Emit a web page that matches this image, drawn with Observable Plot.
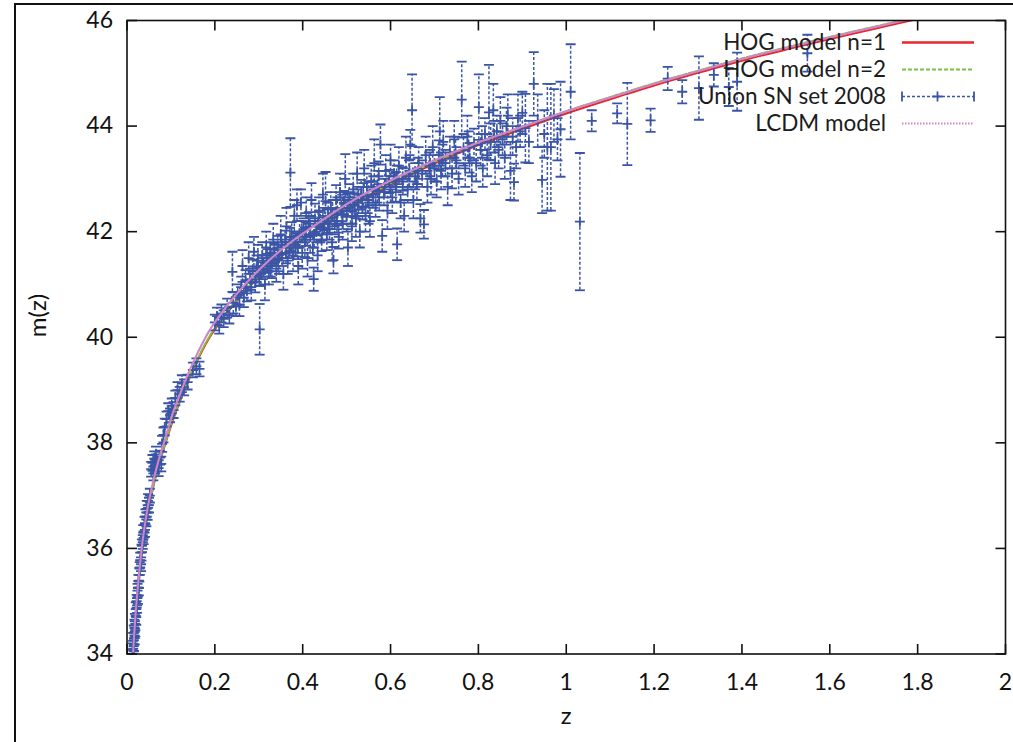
<!DOCTYPE html>
<html><head><meta charset="utf-8">
<script src="https://cdn.jsdelivr.net/npm/d3@7"></script>
<script src="https://cdn.jsdelivr.net/npm/@observablehq/plot@0.6"></script>
<style>
body{margin:0;background:#fff;}
#wrap{position:relative;width:1013px;height:742px;overflow:hidden;font-family:Lato,"Open Sans",sans-serif;}
#chart{position:absolute;left:0;top:0;}
#frame{position:absolute;left:14px;top:3px;width:1100px;height:800px;border-left:2px solid #111;border-top:2px solid #111;}
#legend{position:absolute;left:0;top:0;}
</style></head><body>
<div id="wrap"><div id="chart"></div><div id="frame"></div>
<svg id="legend" width="1013" height="742"></svg></div>
<script>
// ---- tick values ----
const xTicks = [0, 0.2, 0.4, 0.6, 0.8, 1, 1.2, 1.4, 1.6, 1.8, 2];
const yTicks = [34, 36, 38, 40, 42, 44, 46];

// ---- model curves ----
const modelZ = [0.014, 0.02, 0.025, 0.035, 0.045, 0.06, 0.07, 0.0877, 0.1, 0.12, 0.15, 0.188, 0.22, 0.26, 0.32, 0.37, 0.426, 0.5, 0.6, 0.7, 0.8, 0.918, 1.0, 1.1, 1.2, 1.3, 1.4, 1.5, 1.6, 1.7, 1.784, 1.85];
const hog1M = [34.0, 34.76, 35.24, 36.0, 36.57, 37.18, 37.51, 38.0, 38.32, 38.78, 39.38, 40.0, 40.38, 40.79, 41.3, 41.66, 42.0, 42.42, 42.89, 43.29, 43.64, 44.0, 44.24, 44.51, 44.77, 45.01, 45.24, 45.45, 45.65, 45.84, 46.0, 46.12];
const hog2M = [34.0, 34.76, 35.24, 36.0, 36.57, 37.18, 37.52, 38.01, 38.34, 38.8, 39.4, 40.02, 40.4, 40.81, 41.32, 41.68, 42.03, 42.45, 42.92, 43.32, 43.68, 44.04, 44.28, 44.55, 44.81, 45.05, 45.28, 45.49, 45.69, 45.88, 46.04, 46.16];
const lcdmM = [34.05, 34.81, 35.29, 36.1, 36.67, 37.28, 37.61, 38.1, 38.45, 38.91, 39.51, 40.13, 40.51, 40.92, 41.43, 41.78, 42.11, 42.52, 42.97, 43.35, 43.69, 44.04, 44.28, 44.54, 44.8, 45.04, 45.27, 45.48, 45.68, 45.87, 46.03, 46.15];

// ---- Union SN set 2008: [z, m, error] ----
const snLow = [
[0.0125,34.08,0.12],[0.014,34.25,0.15],[0.015,34.05,0.1],[0.0155,34.4,0.14],[0.016,34.18,0.12],[0.017,34.5,0.15],[0.0175,34.3,0.12],[0.018,34.62,0.14],[0.019,34.45,0.12],
[0.02,34.85,0.13],[0.021,34.7,0.15],[0.022,35.0,0.12],[0.023,34.92,0.14],[0.024,35.2,0.13],[0.025,35.1,0.15],[0.026,35.38,0.12],[0.027,35.25,0.14],[0.028,35.5,0.13],
[0.029,35.62,0.12],[0.03,35.78,0.14],[0.032,35.7,0.13],[0.033,35.92,0.15],[0.034,36.05,0.12],
[0.036,36.12,0.13],[0.037,36.3,0.14],[0.038,36.2,0.12],[0.04,36.45,0.15],[0.041,36.35,0.13],[0.042,36.6,0.14],[0.044,36.55,0.13],[0.045,36.75,0.15],[0.047,36.68,0.14],[0.048,36.9,0.13],[0.05,36.82,0.14],[0.052,37.0,0.13],
[0.055,37.5,0.14],[0.058,37.62,0.15],[0.06,37.42,0.13],[0.062,37.7,0.14],[0.064,37.55,0.13],[0.066,37.78,0.15],[0.069,37.6,0.14],[0.072,37.52,0.15],[0.075,37.72,0.13],[0.078,37.6,0.14],
[0.08,37.98,0.15],[0.083,38.15,0.14],[0.086,38.3,0.16],
[0.09,38.45,0.14],[0.094,38.6,0.15],[0.098,38.52,0.13],[0.102,38.7,0.14],[0.106,38.62,0.15],
[0.11,38.85,0.14],[0.115,39.0,0.15],[0.12,38.92,0.14],[0.125,39.12,0.16],[0.13,39.05,0.15],[0.138,39.15,0.14],
[0.15,39.38,0.14],[0.158,39.45,0.15],[0.165,39.4,0.14],
[0.2,40.28,0.15],[0.205,40.4,0.16],[0.21,40.22,0.15],[0.215,40.45,0.17],[0.22,40.35,0.16],[0.228,40.55,0.18],[0.233,40.42,0.16],[0.24,41.24,0.38],[0.242,40.65,0.2],[0.248,40.58,0.18]
];
const snMid = [
[0.252,40.8,0.2],[0.256,40.62,0.22],[0.26,40.95,0.2],[0.263,41.35,0.3],[0.266,40.75,0.18],[0.27,41.05,0.22],[0.273,40.88,0.2],[0.277,41.5,0.3],[0.28,41.1,0.2],[0.283,40.95,0.25],[0.286,41.25,0.22],[0.289,41.62,0.28],[0.292,41.05,0.2],[0.295,41.3,0.25],[0.298,41.45,0.3],[0.302,40.15,0.48],[0.305,41.2,0.22],[0.308,41.55,0.25],[0.311,41.35,0.2],[0.314,41.0,0.3],[0.317,41.7,0.3],[0.32,41.45,0.22],[0.323,41.25,0.25],[0.326,41.6,0.2],[0.33,41.4,0.28],[0.333,41.85,0.3],[0.336,41.55,0.2],[0.34,41.3,0.25],[0.343,41.7,0.22],[0.346,41.5,0.3],[0.35,41.95,0.35],
[0.353,41.6,0.25],[0.356,41.2,0.3],[0.36,41.8,0.22],[0.363,42.1,0.35],[0.366,41.45,0.25],[0.37,41.7,0.2],[0.372,43.12,0.65],[0.375,41.9,0.28],[0.378,41.55,0.3],[0.381,42.3,0.3],[0.384,41.75,0.22],[0.387,42.5,0.3],[0.39,41.35,0.35],[0.393,41.95,0.25],[0.396,42.55,0.25],[0.399,41.6,0.3],[0.402,42.05,0.2],[0.405,41.8,0.28],[0.408,42.35,0.3],[0.411,41.5,0.35],[0.414,42.15,0.22],[0.417,41.9,0.3],[0.42,42.6,0.32],[0.423,41.7,0.25],[0.425,41.1,0.22],[0.428,42.25,0.28],[0.431,42.0,0.2],[0.434,41.55,0.3],[0.437,42.4,0.25],[0.44,42.1,0.3],[0.443,41.85,0.22],[0.446,42.7,0.4],[0.449,42.2,0.25],[0.452,42.58,0.55],
[0.455,41.95,0.3],[0.458,42.3,0.25],[0.461,42.05,0.2],[0.464,42.45,0.3],[0.467,41.8,0.35],[0.47,41.46,0.25],[0.473,42.2,0.25],[0.476,42.6,0.28],[0.479,42.35,0.3],[0.482,41.9,0.22],[0.485,42.75,0.35],[0.488,42.4,0.25],[0.491,42.15,0.3],[0.494,42.55,0.22],[0.497,43.0,0.47],[0.5,42.3,0.3],[0.503,41.7,0.35],[0.506,42.65,0.25],[0.509,42.45,0.3],[0.512,42.1,0.28],[0.515,42.8,0.3],[0.518,42.5,0.22],[0.521,42.25,0.35],[0.524,43.1,0.4],[0.527,42.6,0.25],[0.53,42.0,0.3],[0.533,42.7,0.28],[0.536,42.45,0.22],[0.54,43.2,0.35],[0.543,42.3,0.3],[0.546,42.85,0.25],[0.55,42.55,0.4],
[0.553,42.2,0.3],[0.556,42.95,0.3],[0.56,42.7,0.25],[0.563,43.3,0.45],[0.566,42.5,0.22],[0.57,42.85,0.3],[0.573,43.05,0.28],[0.577,43.65,0.38],[0.581,41.92,0.3],[0.585,42.75,0.25],[0.589,43.15,0.3],[0.593,42.4,0.35],[0.597,42.95,0.22],[0.6,43.35,0.3],[0.604,42.65,0.3],[0.608,43.1,0.25],[0.612,42.85,0.28],[0.615,41.76,0.3],[0.619,43.25,0.35],[0.623,42.55,0.3],[0.627,43.0,0.22],[0.631,42.3,0.3],[0.635,43.4,0.4],[0.639,42.8,0.25],[0.643,43.15,0.3],[0.645,43.65,0.28],[0.649,44.3,0.68],[0.652,42.6,0.35],[0.656,43.05,0.25],[0.66,42.9,0.3],[0.664,43.3,0.3],[0.668,42.25,0.27],[0.672,43.1,0.25],[0.676,42.14,0.27],[0.68,43.45,0.35],[0.684,42.85,0.3],[0.688,43.25,0.25],[0.692,43.0,0.3],[0.696,43.6,0.4],
[0.7,43.2,0.25],[0.705,42.95,0.3],[0.71,43.45,0.28],[0.712,43.9,0.65],[0.715,43.15,0.35],[0.72,43.7,0.4],[0.725,43.3,0.25],[0.73,42.85,0.35],[0.735,43.5,0.3],[0.74,43.1,0.28],[0.745,43.75,0.35],[0.75,43.35,0.25],[0.755,43.0,0.3],[0.762,44.5,0.72],[0.766,43.55,0.3],[0.77,43.2,0.35],[0.775,43.8,0.4],[0.78,43.4,0.28],[0.785,43.05,0.3],[0.79,43.65,0.3],[0.795,43.3,0.35],
[0.801,44.36,0.62],[0.805,43.55,0.3],[0.81,43.2,0.35],[0.815,43.85,0.3],[0.82,43.45,0.4],[0.824,44.26,0.9],[0.828,43.7,0.35],[0.834,44.3,0.5],[0.838,43.3,0.4],[0.842,43.9,0.3],[0.846,43.55,0.35],[0.85,44.1,0.45],[0.855,43.75,0.3],[0.86,43.4,0.4],[0.864,44.0,0.35],[0.867,44.2,0.4],[0.873,43.15,0.55],[0.878,43.8,0.35],[0.881,42.94,0.35],[0.886,43.6,0.4],[0.89,44.15,0.45],[0.895,43.9,0.3],[0.9,44.25,0.4]
];
const snMidCore = [
[0.301,41.15,0.18],[0.309,41.3,0.2],[0.318,41.4,0.18],[0.327,41.35,0.2],[0.335,41.6,0.18],[0.344,41.45,0.2],[0.352,41.75,0.18],[0.362,41.6,0.2],[0.371,41.85,0.22],[0.38,41.8,0.2],[0.389,41.7,0.22],[0.398,42.0,0.2],[0.407,41.95,0.22],[0.416,42.1,0.2],[0.426,41.95,0.25],[0.435,42.15,0.22],[0.445,42.05,0.22],
[0.457,42.2,0.22],[0.468,42.35,0.25],[0.478,42.2,0.22],[0.49,42.45,0.25],[0.502,42.5,0.22],[0.513,42.4,0.25],[0.525,42.55,0.25],[0.538,42.7,0.22],[0.548,42.6,0.25],[0.561,42.8,0.25],[0.574,42.65,0.25],[0.587,42.9,0.25],[0.6,42.8,0.25],[0.614,43.0,0.25],[0.628,42.95,0.25],[0.642,43.1,0.25],
[0.662,43.15,0.25],[0.69,43.3,0.25],[0.718,43.35,0.3],[0.748,43.5,0.3],[0.778,43.6,0.3],[0.808,43.7,0.3],[0.836,43.8,0.3]
];
const snHigh = [
[0.907,43.96,0.65],[0.915,43.7,0.4],[0.926,44.8,0.6],[0.935,44.1,0.5],[0.945,42.98,0.63],[0.95,43.85,0.45],[0.957,43.6,1.2],[0.965,43.6,1.2],[0.972,44.2,0.5],[0.98,43.75,0.4],[0.987,43.94,0.9],[1.01,44.65,0.9],[1.031,42.19,1.3],[1.058,44.1,0.2],
[1.116,44.24,0.19],[1.139,44.04,0.78],[1.192,44.11,0.22],[1.231,44.9,0.22],[1.264,44.65,0.22],[1.302,44.72,0.6],[1.336,44.97,0.22],[1.37,44.74,0.36],[1.389,44.84,0.55],[1.549,45.38,0.35]
];

const sn = [...snLow, ...snMid, ...snMidCore, ...snHigh].map(([z, m, e]) => ({z, m, e}));
const curve = arr => modelZ.map((z, i) => ({z, m: arr[i]}));

const blue = "#3b55a6", red = "#e8262b", green = "#7cc142", pink = "#cf86c6", ink = "#111";

const tickUp = {draw(c){c.moveTo(0,0);c.lineTo(0,-10);}};
const tickDown = {draw(c){c.moveTo(0,0);c.lineTo(0,10);}};
const tickRight = {draw(c){c.moveTo(0,0);c.lineTo(10,0);}};
const tickLeft = {draw(c){c.moveTo(0,0);c.lineTo(-10,0);}};
const cap = {draw(c){c.moveTo(-5,0);c.lineTo(5,0);}};
const plus = {draw(c){c.moveTo(-5,0);c.lineTo(5,0);c.moveTo(0,-5);c.lineTo(0,5);}};

const chart = Plot.plot({
  width: 1013, height: 742,
  marginLeft: 126.5, marginRight: 8, marginTop: 20, marginBottom: 88.5,
  x: {domain: [0, 2]},
  y: {domain: [34, 46]},
  style: {fontFamily: "Lato, 'Open Sans', sans-serif", fontSize: "23px", color: ink, background: "transparent"},
  marks: [
    Plot.line(curve(hog1M), {x: "z", y: "m", stroke: red, strokeWidth: 2.2, curve: "monotone-x", clip: true}),
    Plot.line(curve(hog2M), {x: "z", y: "m", stroke: green, strokeWidth: 2, strokeDasharray: "4,2", curve: "monotone-x", clip: true}),
    Plot.ruleX(sn, {x: "z", y1: d => d.m - d.e, y2: d => d.m + d.e, stroke: blue, strokeWidth: 1.5, strokeDasharray: "3,2", clip: true}),
    Plot.dot(sn, {x: "z", y: d => d.m - d.e, symbol: cap, stroke: blue, fill: "none", strokeWidth: 1.8, clip: true}),
    Plot.dot(sn, {x: "z", y: d => d.m + d.e, symbol: cap, stroke: blue, fill: "none", strokeWidth: 1.8, clip: true}),
    Plot.dot(sn, {x: "z", y: "m", symbol: plus, stroke: blue, fill: "none", strokeWidth: 1.8, clip: true}),
    Plot.line(curve(lcdmM), {x: "z", y: "m", stroke: pink, strokeWidth: 2.2, strokeDasharray: "1.5,1.5", curve: "monotone-x", clip: true}),
    Plot.frame({stroke: ink, strokeWidth: 1.6}),
    Plot.dot(xTicks, {x: d => d, frameAnchor: "bottom", symbol: tickUp, stroke: ink, fill: "none", strokeWidth: 1.6}),
    Plot.dot(xTicks, {x: d => d, frameAnchor: "top", symbol: tickDown, stroke: ink, fill: "none", strokeWidth: 1.6}),
    Plot.dot(yTicks, {y: d => d, frameAnchor: "left", symbol: tickRight, stroke: ink, fill: "none", strokeWidth: 1.6}),
    Plot.dot(yTicks, {y: d => d, frameAnchor: "right", symbol: tickLeft, stroke: ink, fill: "none", strokeWidth: 1.6}),
    Plot.axisX({ticks: xTicks, tickSize: 0, tickPadding: 20, tickFormat: d => String(d), label: null, fontSize: 23}),
    Plot.axisY({ticks: yTicks, tickSize: 0, tickPadding: 14, tickFormat: d => String(d), label: null, fontSize: 23}),
    Plot.text(["z"], {frameAnchor: "bottom", dy: 70, fontSize: 24, fill: ink}),
    Plot.text(["m(z)"], {frameAnchor: "left", dx: -89, rotate: -90, fontSize: 24, fill: ink})
  ]
});
document.getElementById("chart").appendChild(chart);

// ---- legend ----
const legendLabels = ["HOG model n=1", "HOG model n=2", "Union SN set 2008", "LCDM model"];
const lg = d3.select("#legend");
const rowY = [42.5, 69.5, 96.5, 123.5];
const styles = [
  {stroke: red, w: 2.4, dash: null},
  {stroke: green, w: 2, dash: "4,2"},
  {stroke: blue, w: 1.5, dash: "3,2"},
  {stroke: pink, w: 2.2, dash: "1.5,1.5"}
];
legendLabels.forEach((t, i) => {
  const y = rowY[i];
  lg.append("text").attr("x", 886).attr("y", y).attr("dy", "0.35em").attr("text-anchor", "end")
    .attr("font-family", "Lato, 'Open Sans', sans-serif").attr("font-size", 22.5).attr("fill", "#1c1c1c").text(t);
  const s = styles[i];
  const l = lg.append("line").attr("x1", 902).attr("x2", 974).attr("y1", y).attr("y2", y)
    .attr("stroke", s.stroke).attr("stroke-width", s.w);
  if (s.dash) l.attr("stroke-dasharray", s.dash);
  if (i === 2) {
    [902, 974].forEach(x => lg.append("line").attr("x1", x).attr("x2", x).attr("y1", y - 5).attr("y2", y + 5).attr("stroke", blue).attr("stroke-width", 1.8));
    lg.append("path").attr("d", `M932.5,${y}h10M937.5,${y-5}v10`).attr("stroke", blue).attr("stroke-width", 1.8);
  }
});
</script>
</body></html>
